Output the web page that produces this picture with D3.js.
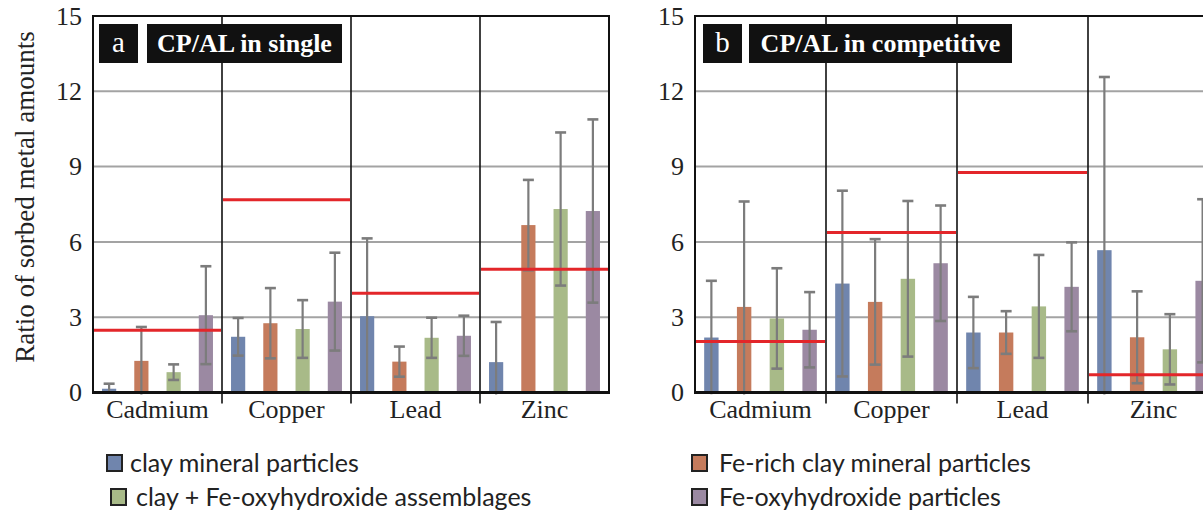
<!DOCTYPE html>
<html><head><meta charset="utf-8">
<script src="https://cdn.jsdelivr.net/npm/d3@7"></script>
<style>
html,body{margin:0;padding:0;background:#fff;overflow:hidden}
svg{display:block}
</style></head>
<body><svg id="c" width="1203" height="513"></svg>
<script>
// ---------- data ----------
const categories = ["Cadmium", "Copper", "Lead", "Zinc"];
const seriesNames = ["clay mineral particles", "Fe-rich clay mineral particles",
  "clay + Fe-oxyhydroxide assemblages", "Fe-oxyhydroxide particles"];
const yTicks = [0, 3, 6, 9, 12, 15];

// panel a: CP/AL in single  (rows = categories, columns = series)
const singleValues = [
  [0.15, 1.26, 0.81, 3.08],
  [2.22, 2.76, 2.53, 3.62],
  [3.04, 1.23, 2.18, 2.26],
  [1.21, 6.67, 7.31, 7.23]
];
const singleErrors = [
  [0.20, 1.35, 0.31, 1.95],
  [0.75, 1.40, 1.15, 1.95],
  [3.10, 0.60, 0.80, 0.80],
  [1.60, 1.80, 3.05, 3.65]
];
const singleReference = [2.48, 7.68, 3.95, 4.91];

// panel b: CP/AL in competitive
const compValues = [
  [2.19, 3.41, 2.95, 2.50],
  [4.34, 3.61, 4.53, 5.15],
  [2.39, 2.39, 3.43, 4.21],
  [5.67, 2.20, 1.72, 4.45]
];
const compErrors = [
  [2.26, 4.20, 2.00, 1.50],
  [3.70, 2.50, 3.10, 2.30],
  [1.42, 0.85, 2.05, 1.77],
  [6.90, 1.83, 1.40, 3.25]
];
const compReference = [2.03, 6.37, 8.76, 0.71];

// ---------- styles ----------
const colors = ["#7085ad", "#c57b5c", "#a8ba88", "#9b89a2"];
const serif = "'Liberation Serif','Times New Roman',serif";
const sans = "Lato,'Open Sans',sans-serif";

const svg = d3.select("#c");
svg.append("rect").attr("width", 1203).attr("height", 513).attr("fill", "#fff");

const plotTop = 16, plotBottom = 392.5;
const y = d3.scaleLinear().domain([0, 15]).range([plotBottom, plotTop]);

function panel(opts) {
  const {x0, x1, letter, title, values, errors, reference, letterBox, titleBox, showRight} = opts;
  const g = svg.append("g");
  const x = d3.scaleBand().domain(categories).range([x0, x1]).padding(0);
  const xs = d3.scaleBand().domain(d3.range(seriesNames.length))
    .range([0, x.bandwidth()]).paddingInner(0.56).paddingOuter(0.28);

  // gridlines
  g.selectAll("line.grid").data(yTicks.filter(t => t > 0 && t < 15)).join("line")
    .attr("x1", x0).attr("x2", x1).attr("y1", d => y(d)).attr("y2", d => y(d))
    .attr("stroke", "#a3a3a3").attr("stroke-width", 2);

  // bars
  const rows = [];
  categories.forEach((c, i) => values[i].forEach((v, j) =>
    rows.push({c, j, v, e: errors[i][j]})));
  g.selectAll("rect.bar").data(rows).join("rect")
    .attr("x", d => x(d.c) + xs(d.j)).attr("width", xs.bandwidth())
    .attr("y", d => y(d.v)).attr("height", d => y(0) - y(d.v))
    .attr("fill", d => colors[d.j]);

  // error bars
  const cx = d => x(d.c) + xs(d.j) + xs.bandwidth() / 2;
  const eg = g.append("g").attr("stroke", "#7c7c7c").attr("stroke-width", 2.2);
  eg.selectAll("line.v").data(rows).join("line")
    .attr("x1", cx).attr("x2", cx)
    .attr("y1", d => y(d.v + d.e)).attr("y2", d => Math.min(y(d.v - d.e), y(0) + 2));
  eg.selectAll("line.hi").data(rows).join("line")
    .attr("x1", d => cx(d) - 5.5).attr("x2", d => cx(d) + 5.5)
    .attr("y1", d => y(d.v + d.e)).attr("y2", d => y(d.v + d.e)).attr("stroke-width", 2.6);
  eg.selectAll("line.lo").data(rows.filter(d => d.v - d.e > 0.05)).join("line")
    .attr("x1", d => cx(d) - 5.5).attr("x2", d => cx(d) + 5.5)
    .attr("y1", d => y(d.v - d.e)).attr("y2", d => y(d.v - d.e)).attr("stroke-width", 2.6);

  // reference (red) lines
  g.selectAll("line.ref").data(categories).join("line")
    .attr("x1", c => x(c) + 1).attr("x2", c => x(c) + x.bandwidth() - 1)
    .attr("y1", (c, i) => y(reference[i])).attr("y2", (c, i) => y(reference[i]))
    .attr("stroke", "#e3262a").attr("stroke-width", 3);

  // category dividers
  g.selectAll("line.div").data(categories.slice(1)).join("line")
    .attr("x1", c => x(c)).attr("x2", c => x(c))
    .attr("y1", plotTop).attr("y2", plotBottom + 11)
    .attr("stroke", "#111").attr("stroke-width", 1.6);

  // frame
  g.append("line").attr("x1", x0).attr("x2", x1).attr("y1", plotTop).attr("y2", plotTop)
    .attr("stroke", "#111").attr("stroke-width", 1.8);
  g.append("line").attr("x1", x0).attr("x2", x0).attr("y1", plotTop - 0.9).attr("y2", plotBottom + 1.5)
    .attr("stroke", "#111").attr("stroke-width", 2);
  if (showRight) g.append("line").attr("x1", x1).attr("x2", x1).attr("y1", plotTop - 0.9).attr("y2", plotBottom + 1.5)
    .attr("stroke", "#111").attr("stroke-width", 2);
  g.append("line").attr("x1", x0 - 1).attr("x2", x1 + 1).attr("y1", plotBottom).attr("y2", plotBottom)
    .attr("stroke", "#111").attr("stroke-width", 3);

  // y axis labels
  const ya = g.append("g").attr("transform", `translate(${x0 - 11},0)`)
    .call(d3.axisLeft(y).tickValues(yTicks).tickSize(0).tickPadding(0));
  ya.attr("font-family", serif).attr("font-size", 26);
  ya.select(".domain").remove();
  ya.selectAll("text").style("font-family", serif).style("font-size", "26px").attr("fill", "#222")
    .attr("dy", "0.32em");

  // x axis labels
  const xa = g.append("g").attr("transform", `translate(0,${plotBottom})`)
    .call(d3.axisBottom(x).tickSize(0).tickPadding(0));
  xa.attr("font-family", serif).attr("font-size", 26);
  xa.select(".domain").remove();
  xa.selectAll("text").style("font-family", serif).style("font-size", "26px").attr("fill", "#222")
    .attr("dy", "0.71em").attr("y", 7);

  // title boxes
  g.append("rect").attr("x", letterBox[0]).attr("y", 24).attr("width", letterBox[1]).attr("height", 39).attr("fill", "#111");
  g.append("text").attr("x", letterBox[0] + letterBox[1] / 2).attr("y", 52).attr("text-anchor", "middle")
    .style("font-family", serif).attr("font-size", 29).attr("fill", "#fff").text(letter);
  g.append("rect").attr("x", titleBox[0]).attr("y", 24).attr("width", titleBox[1]).attr("height", 39).attr("fill", "#111");
  g.append("text").attr("x", titleBox[0] + titleBox[1] / 2).attr("y", 52).attr("text-anchor", "middle")
    .style("font-family", serif).attr("font-weight", "bold").attr("font-size", 26).attr("fill", "#fff").text(title);
}

panel({x0: 93, x1: 609, letter: "a", title: "CP/AL in single",
  values: singleValues, errors: singleErrors, reference: singleReference,
  letterBox: [99, 39], titleBox: [147, 195], showRight: true});
panel({x0: 695, x1: 1219, letter: "b", title: "CP/AL in competitive",
  values: compValues, errors: compErrors, reference: compReference,
  letterBox: [703, 39], titleBox: [749, 263], showRight: false});

// y axis title
svg.append("text").attr("transform", "translate(34,197) rotate(-90)")
  .attr("text-anchor", "middle").style("font-family", serif).attr("font-size", 27)
  .attr("fill", "#222").text("Ratio of sorbed metal amounts");

// legend
const legendPos = [[107, 463, 130], [692, 463, 719], [111, 497, 136], [692, 497, 719]];
const lg = svg.append("g");
seriesNames.forEach((name, i) => {
  const [sx, sy, tx] = legendPos[i];
  lg.append("rect").attr("x", sx).attr("y", sy - 8).attr("width", 15).attr("height", 16)
    .attr("fill", colors[i]).attr("stroke", "#222").attr("stroke-width", 2);
  lg.append("text").attr("x", tx).attr("y", sy).attr("dy", "0.35em")
    .style("font-family", sans).attr("font-size", 25).attr("fill", "#222").text(name);
});
</script></body></html>
